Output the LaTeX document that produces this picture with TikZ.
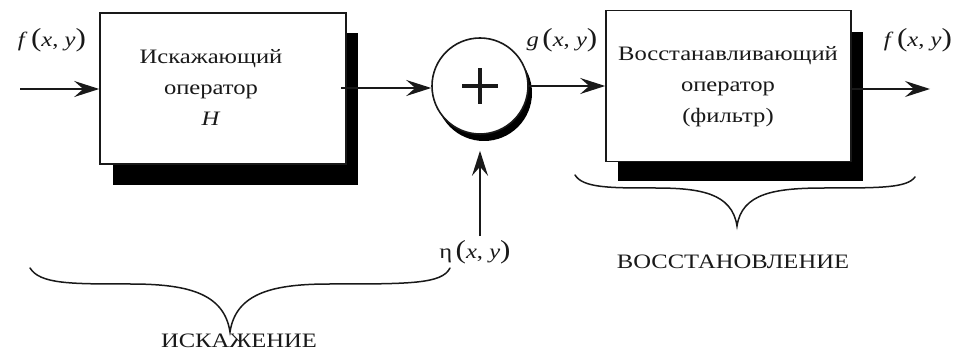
\documentclass[tikz,border=0pt]{standalone}
\usepackage{fontspec}
\setmainfont{Liberation Serif}[FakeStretch=1.2]
\usetikzlibrary{arrows.meta}
\definecolor{ink}{gray}{0.1}
% large upright parentheses around the signal arguments
\newcommand\bigpar[1]{{\fontsize{26}{26}\selectfont #1}}
\newcommand\sigarg[1]{#1\,\bigpar{(}\textit{x}, \textit{y}\bigpar{)}}
\tikzset{
  opbox/.style={draw=ink, fill=white, line width=1.6pt, inner sep=0pt},
  txt/.style={text=ink, inner sep=0pt, align=center},
  sig/.style={draw=ink, line width=1.5pt,
    -{Stealth[length=25pt, width=16pt, inset=9pt]}},
  brace/.style={draw=ink, line width=1.5pt, line cap=round}
}
\begin{document}
\begin{tikzpicture}[x=1pt, y=-1pt, font=\fontsize{20.5}{31}\selectfont]
\useasboundingbox (0,0) rectangle (962,355);

% distorting operator with its shadow
\fill[black] (113,33) rectangle (358,185);
\node[opbox, minimum width=246pt, minimum height=151pt] (op1) at (223,88.5) {};
\node[txt] (op1txt) at (211,87) {Искажающий\\оператор\\\textit{H}};

% summing junction with shadow
\fill[black] (484,93) circle (48);
\node[opbox, circle, minimum size=96pt] (sum) at (480,86) {};
\draw[ink, line width=4pt] ([xshift=-18pt]sum.center) -- ([xshift=18pt]sum.center);
\draw[ink, line width=4pt] ([yshift=-18pt]sum.center) -- ([yshift=18pt]sum.center);

% restoring operator (filter) with its shadow
\fill[black] (618,32) rectangle (863,181);
\node[opbox, minimum width=245pt, minimum height=151pt] (op2) at (728.5,86) {};
\node[txt] (op2txt) at (728,87) {Восстанавливающий\\оператор\\(фильтр)};

% signal labels
\node[txt] (fin) at (52,40) {\sigarg{\textit{f}}};
\node[txt] (gxy) at (562,40) {\sigarg{\textit{g}}};
\node[txt] (fout) at (918,40) {\sigarg{\textit{f}}};
\node[txt] (eta) at (475,252) {\sigarg{η}};

% connectors
\coordinate (src) at (20,89);
\coordinate (dst) at (930,89);
\draw[sig] (src) -- (src -| op1.west);
\draw[sig] (sum.west |- 0,88) ++(-90,0) coordinate (o1) -- (o1 -| sum.west);
\draw[sig] (sum.east) -- (sum.east -| op2.west);
\draw[sig] (dst -| op2.east) -- (dst);
\draw[sig, shorten >=16pt] (sum.south |- eta.north) ++(0,-4) -- (sum.south);

% brace under the distortion stage
\coordinate (b1l) at (30,268);
\coordinate (b1t) at (230,332);
\coordinate (b1r) at (450,268);
\draw[brace] (b1l) .. controls (40,284) and (70,284) .. (130,284)
  .. controls (185,284) and (224,292) .. (b1t)
  .. controls (236,292) and (275,284) .. (330,284)
  .. controls (410,284) and (442,284) .. (b1r);
\node[txt, anchor=base] (dist) at (239,348) {ИСКАЖЕНИЕ};

% brace under the restoration stage
\coordinate (b2l) at (575,175);
\coordinate (b2t) at (737,226);
\coordinate (b2r) at (915,177);
\draw[brace] (b2l) .. controls (583,188) and (610,188) .. (655,188)
  .. controls (700,188) and (732,193) .. (b2t)
  .. controls (742,193) and (775,188) .. (825,188)
  .. controls (880,188) and (907,188) .. (b2r);
\node[txt] (rest) at (733,262) {ВОССТАНОВЛЕНИЕ};
\end{tikzpicture}
\end{document}
